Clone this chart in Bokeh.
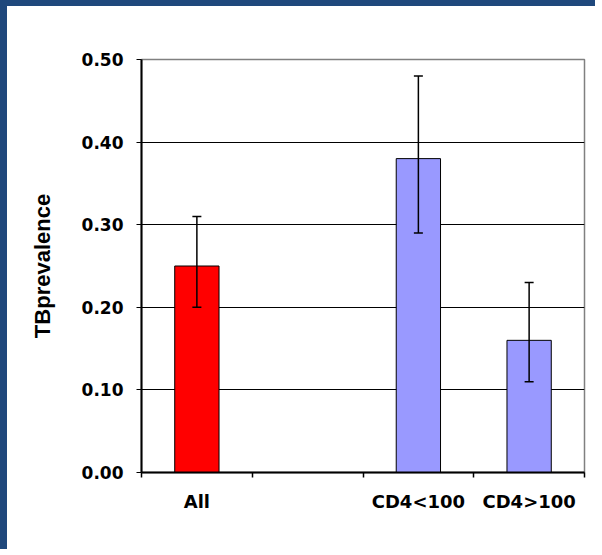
from bokeh.plotting import figure
from bokeh.models import ColumnDataSource, FixedTicker, Whisker, TeeHead, NumeralTickFormatter, Range1d
from bokeh.embed import file_html
from bokeh.resources import INLINE

categories = ["All", "", "CD4<100", "CD4>100"]
prevalence = [0.25, None, 0.38, 0.16]
lower = [0.20, None, 0.29, 0.11]
upper = [0.31, None, 0.48, 0.23]
bar_colors = ["#FF0000", "#FFFFFF", "#9999FF", "#9999FF"]
y_ticks = [0.0, 0.1, 0.2, 0.3, 0.4, 0.5]

idx = [i for i, v in enumerate(prevalence) if v is not None]
src = ColumnDataSource(dict(
    x=[i + 0.5 for i in idx],
    top=[prevalence[i] for i in idx],
    lo=[lower[i] for i in idx],
    hi=[upper[i] for i in idx],
    color=[bar_colors[i] for i in idx],
))

p = figure(width=595, height=549, output_backend="svg", toolbar_location=None,
           x_range=Range1d(0, len(categories)), y_range=Range1d(0, 0.5),
           min_border_left=134, min_border_right=18, min_border_top=53, min_border_bottom=83)
p.styles = {"border-top": "6px solid #1F487C", "border-left": "7px solid #1F487C"}
p.background_fill_color = "white"
p.border_fill_color = "white"
p.outline_line_color = "#808080"
p.outline_line_width = 1.5

p.vbar(x="x", top="top", width=0.4, bottom=0, fill_color="color", line_color="black",
       line_width=1, source=src)
wh = Whisker(base="x", lower="lo", upper="hi", source=src, line_color="black", line_width=1.5,
             upper_head=TeeHead(size=9, line_color="black", line_width=1.5),
             lower_head=TeeHead(size=9, line_color="black", line_width=1.5))
wh.level = "overlay"
p.add_layout(wh)

# x axis
p.xaxis.ticker = FixedTicker(ticks=[i + 0.5 for i in range(len(categories))],
                             minor_ticks=list(range(len(categories) + 1)))
p.xaxis.major_label_overrides = {i + 0.5: c for i, c in enumerate(categories)}
p.xaxis.major_tick_out = 0
p.xaxis.major_tick_in = 0
p.xaxis.minor_tick_out = 5
p.xaxis.minor_tick_in = 0
p.xaxis.minor_tick_line_color = "black"
p.xaxis.minor_tick_line_width = 1.5
p.xaxis.axis_line_color = "black"
p.xaxis.axis_line_width = 2
p.xaxis.major_label_standoff = 13
p.xaxis.major_label_text_font = "DejaVu Sans"
p.xaxis.major_label_text_font_style = "bold"
p.xaxis.major_label_text_font_size = "18px"
p.xaxis.major_label_text_color = "black"

# y axis
p.yaxis.ticker = FixedTicker(ticks=y_ticks)
p.yaxis.formatter = NumeralTickFormatter(format="0.00")
p.yaxis.minor_tick_line_color = None
p.yaxis.major_tick_out = 5
p.yaxis.major_tick_in = 0
p.yaxis.major_tick_line_color = "black"
p.yaxis.axis_line_color = "black"
p.yaxis.axis_line_width = 2
p.yaxis.major_label_standoff = 13
p.yaxis.major_label_text_font = "DejaVu Sans"
p.yaxis.major_label_text_font_style = "bold"
p.yaxis.major_label_text_font_size = "17px"
p.yaxis.major_label_text_color = "black"
p.yaxis.axis_label = "TBprevalence"
p.yaxis.axis_label_text_font = "Liberation Sans"
p.yaxis.axis_label_text_font_style = "bold"
p.yaxis.axis_label_text_font_size = "22px"
p.yaxis.axis_label_text_color = "black"
p.yaxis.axis_label_standoff = 24

p.xgrid.visible = False
p.ygrid.ticker = FixedTicker(ticks=y_ticks[1:-1])
p.ygrid.grid_line_color = "black"
p.ygrid.grid_line_width = 1

open("out.html", "w").write(file_html(p, INLINE))
